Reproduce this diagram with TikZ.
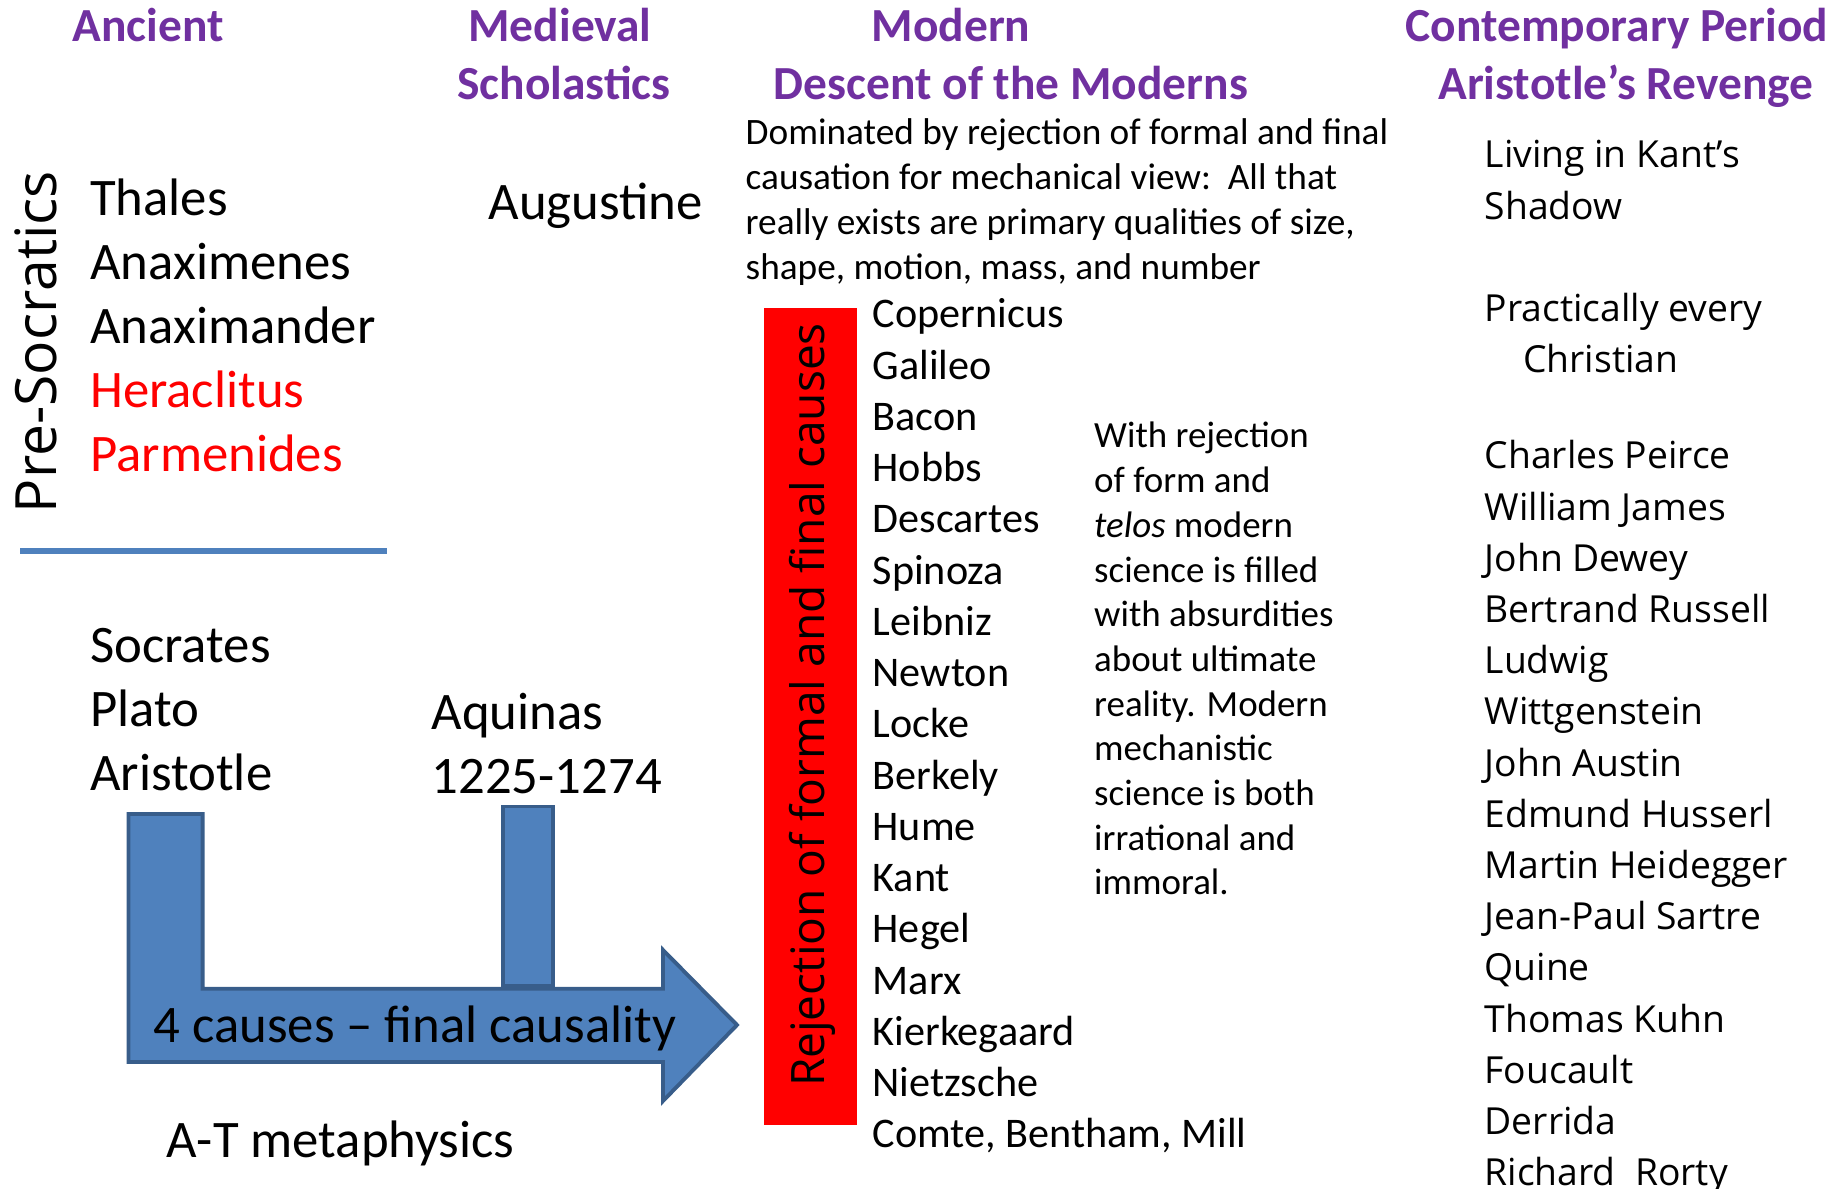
\documentclass[tikz,border=0pt]{standalone}
\usepackage{fontspec}
\setmainfont{Carlito}
\newfontfamily\opensans{Open Sans}
\definecolor{hdrpurple}{RGB}{112,48,160}
\definecolor{myblue}{RGB}{79,129,189}
\definecolor{bluedark}{RGB}{56,93,138}
\definecolor{myred}{RGB}{255,0,0}
\newcommand{\setfs}[1]{\fontsize{#1}{#1}\selectfont}
\tikzset{
  header/.style={anchor=base, inner sep=0pt, font=\setfs{13.5pt}\bfseries, text=hdrpurple},
  bigname/.style={anchor=base west, inner sep=0pt, font=\setfs{15pt}},
  modname/.style={anchor=base west, inner sep=0pt, font=\setfs{12pt}},
  note/.style={anchor=base west, inner sep=0pt, font=\setfs{10.6pt}},
  contname/.style={anchor=base west, inner sep=0pt, font=\opensans\setfs{10.6pt}},
  sideways/.style={rotate=90, inner sep=0pt, font=\opensans\setfs{16.2pt}},
  bluebar/.style={fill=myblue, draw=bluedark, line width=1.1pt},
  sepline/.style={draw=myblue, line width=1.6pt},
  redband/.style={fill=myred, draw=none, inner sep=0pt}
}

\begin{document}
\begin{tikzpicture}[x=0.01cm, y=-0.01cm]
  \useasboundingbox (0,0) rectangle (1847,1189);
  \clip (0,0) rectangle (1847,1189);

  % period headers
  \node[header] (anc)   at (148,42)    {Ancient};
  \node[header] (med)   at (560,42)    {Medieval};
  \node[header] (schol) at (564,100)   {Scholastics};
  \node[header] (mod)   at (951,42)    {Modern};
  \node[header] (desc)  at (1011,100)  {Descent of the Moderns};
  \node[header] (cont)  at (1617,42)   {Contemporary Period};
  \node[header] (rev)   at (1626,100)  {Aristotle’s Revenge};

  % ancient column
  \node[sideways] (presoc) at (36,342) {Pre-Socratics};
  \foreach \nm/\cl [count=\i from 0] in {Thales/black, Anaximenes/black,
      Anaximander/black, Heraclitus/myred, Parmenides/myred}
    \node[bigname, text=\cl] (pre\i) at (89.5,{216+64*\i}) {\nm};
  \coordinate (sepL) at (20,551);
  \coordinate (sepR) at (387,551);
  \draw[sepline] (sepL) -- (sepR);
  \node[bigname] (soc)  at (89.5,663) {Socrates};
  \node[bigname] (plat) at (89.5,727) {Plato};
  \node[bigname] (arist) at (89.5,791) {Aristotle};

  % medieval column
  \node[bigname] (aug)   at (488,220)   {Augustine};
  \node[bigname] (aq)    at (431,730)   {Aquinas};
  \node[bigname] (aqyrs) at (431,794)   {1225-1274};

  % the big L arrow
  \draw[bluebar] (128.5,814) -- (202.6,814) -- (202.6,988.7) -- (663,988.7)
    -- (663,950) -- (737,1025) -- (663,1101) -- (663,1062) -- (128.5,1062) -- cycle;
  \draw[bluebar] (503,806.5) rectangle (552.6,986);
  \node[bigname, anchor=base] (causes) at (415,1043) {4 causes – final causality};
  \node[bigname] (atm) at (166,1158) {A-T metaphysics};

  % modern column
  \foreach \ln [count=\i from 0] in {Dominated by rejection of formal and final,
      causation for mechanical view:\ \ All that,
      really exists are primary qualities of size{,},
      shape{,} motion{,} mass{,} and number}
    \node[note] (dom\i) at (745,{145+45*\i}) {\ln};
  \node[redband, minimum width=0.93cm, minimum height=8.164cm] (rej) at (810.5,716.8) {};
  \node[sideways, font=\opensans\setfs{13.1pt}] (rejtxt) at (812.5,705)
    {Rejection of formal and final causes};
  \foreach \nm [count=\i from 0] in {Copernicus, Galileo, Bacon, Hobbs, Descartes,
      Spinoza, Leibniz, Newton, Locke, Berkely, Hume, Kant, Hegel, Marx,
      Kierkegaard, Nietzsche, {Comte, Bentham, Mill}}
    \node[modname] (m\i) at (872,{328+51.25*\i}) {\nm};
  \foreach \ln [count=\i from 0] in {With rejection, of form and,
      \textit{telos} modern, science is filled, with absurdities, about ultimate,
      reality. Modern, mechanistic, science is both, irrational and, immoral.}
    \node[note, font=\setfs{10.5pt}] (tel\i) at (1093.5,{448+44.7*\i}) {\ln};

  % contemporary column
  \node[contname] (kant)   at (1484,168)   {Living in Kant’s};
  \node[contname] (shadow) at (1484,220)   {Shadow};
  \node[contname] (pract)  at (1484,322)   {Practically every};
  \node[contname] (christ) at (1522.5,373) {Christian};
  \foreach \nm [count=\i from 0] in {Charles Peirce, William James, John Dewey,
      Bertrand Russell, Ludwig, Wittgenstein, John Austin, Edmund Husserl,
      Martin Heidegger, Jean-Paul Sartre, Quine, Thomas Kuhn, Foucault, Derrida,
      Richard\ \ Rorty}
    \node[contname] (c\i) at (1484,{469+51.2*\i}) {\nm};
\end{tikzpicture}
\end{document}
